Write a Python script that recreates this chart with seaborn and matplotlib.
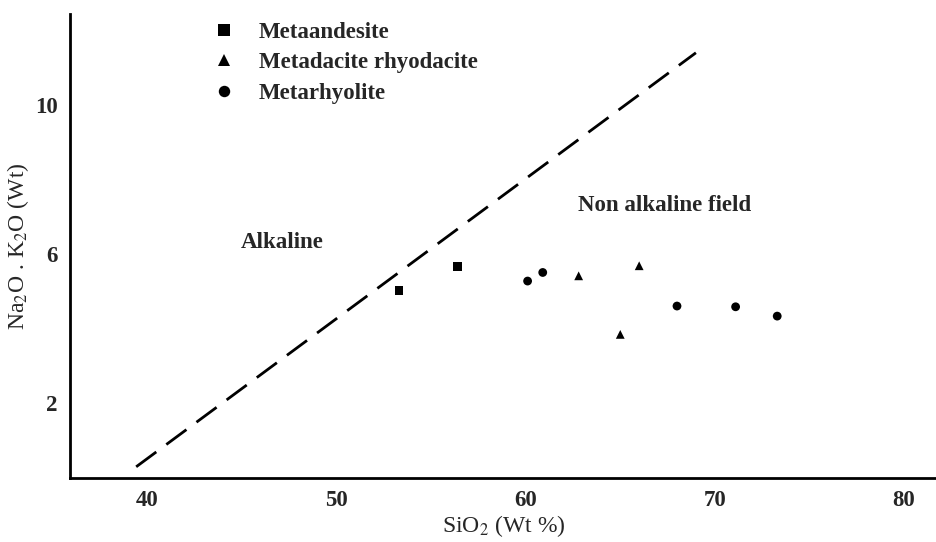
import matplotlib
matplotlib.use("Agg")
import matplotlib.pyplot as plt
import seaborn as sns
import pandas as pd

# Data
andesite_x = [53.3, 56.4]
andesite_y = [5.03, 5.66]
dacite_x = [62.8, 65.0, 66.0]
dacite_y = [5.42, 3.85, 5.69]
rhyolite_x = [60.1, 60.9, 68.0, 71.1, 73.3]
rhyolite_y = [5.28, 5.51, 4.61, 4.59, 4.34]
boundary_x = [39.4, 69.0]
boundary_y = [0.3, 11.4]
x_ticks = [40, 50, 60, 70, 80]
y_ticks = [2, 6, 10]
labels = ["Metaandesite", "Metadacite rhyodacite", "Metarhyolite"]

sns.set_style("white")
plt.rcParams["font.family"] = ["Liberation Serif", "DejaVu Serif"]
plt.rcParams["mathtext.fontset"] = "stix"

df = pd.DataFrame({
    "SiO2": andesite_x + dacite_x + rhyolite_x,
    "alk": andesite_y + dacite_y + rhyolite_y,
    "rock": [labels[0]] * len(andesite_x) + [labels[1]] * len(dacite_x) + [labels[2]] * len(rhyolite_x),
})

fig = plt.figure(figsize=(9.37, 5.42), dpi=100)
ax = fig.add_axes([0.0747, 0.1181, 0.9253, 0.8561])

sns.lineplot(x=boundary_x, y=boundary_y, ax=ax, color="black", lw=2.0,
             dashes=False, legend=False, estimator=None)
ax.lines[-1].set_dashes([9, 4.5])

sns.scatterplot(data=df, x="SiO2", y="alk", style="rock", hue="rock",
                palette=["black"] * 3, hue_order=labels, style_order=labels,
                markers={labels[0]: "s", labels[1]: "^", labels[2]: "o"},
                s=40, edgecolor="black", linewidth=0, ax=ax, legend=True)

ax.set_xlim(35.9, 81.75)
ax.set_ylim(0, 12.44)
ax.set_xticks(x_ticks)
ax.set_yticks(y_ticks)
ax.set_xticklabels([str(t) for t in x_ticks], fontsize=16.5, fontweight="bold")
ax.set_yticklabels([str(t) for t in y_ticks], fontsize=16.5, fontweight="bold")
ax.tick_params(axis="x", direction="in", length=5, width=1.5, pad=9)
ax.tick_params(axis="y", length=0, pad=9)
for side in ["top", "right"]:
    ax.spines[side].set_visible(False)
for side in ["left", "bottom"]:
    ax.spines[side].set_linewidth(2)
    ax.spines[side].set_color("black")

ax.set_xlabel("SiO$_2$ (Wt %)", fontsize=17, labelpad=1)
ax.set_ylabel("Na$_2$O . K$_2$O (Wt)", fontsize=17, labelpad=3)

ax.text(47.1, 6.32, "Alkaline", fontsize=16.5, fontweight="bold", ha="center", va="center")
ax.text(67.35, 7.3, "Non alkaline field", fontsize=16.5, fontweight="bold", ha="center", va="center")

leg = ax.legend(loc="upper left", bbox_to_anchor=(0.127, 1.027), frameon=False,
                prop={"weight": "bold", "size": 16.5},
                handletextpad=0.55, labelspacing=0.4, markerscale=1.3)

fig.savefig("out.png", dpi=100)
